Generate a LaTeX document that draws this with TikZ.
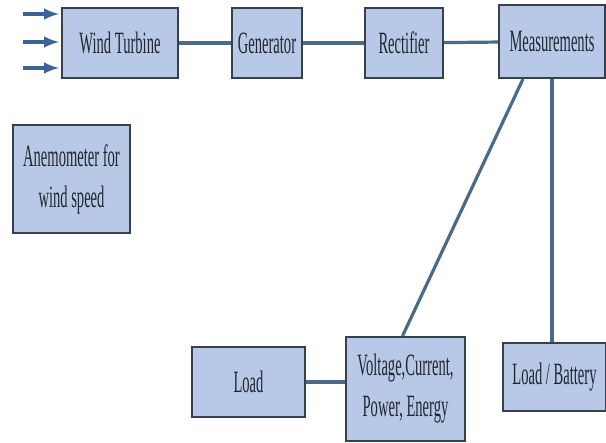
\documentclass[tikz,border=0pt]{standalone}
\usepackage{fontspec}
\newfontfamily\boxfont[FakeStretch=0.47]{Liberation Serif}
\usepackage{xcolor}
\usepackage{tikz}
\definecolor{boxfill}{HTML}{B7C9E7}
\definecolor{border}{HTML}{36404E}
\definecolor{wire}{HTML}{4A6A88}
\definecolor{wind}{HTML}{3A6399}
\definecolor{ink}{HTML}{22262F}

\begin{document}
\begin{tikzpicture}[x=1pt, y=-1pt,
  block/.style={draw=border, line width=2pt, fill=boxfill, inner sep=0pt, align=center,
    text=ink, font=\boxfont\fontsize{31}{41}\selectfont},
  wire/.style={draw=wire, line width=3.2pt}]
  \useasboundingbox (0,0) rectangle (606,443);
  \node[block, minimum width=116pt, minimum height=70pt] (turbine) at (120,43) {Wind Turbine};
  \node[block, minimum width=70pt, minimum height=70pt] (gen) at (267,43) {Generator};
  \node[block, minimum width=78pt, minimum height=70pt] (rect) at (404,43) {Rectifier};
  \node[block, minimum width=106pt, minimum height=73pt] (meas) at (552,41.5) {Measurements};
  \node[block, minimum width=117pt, minimum height=108pt] (anemo) at (71.5,179) {Anemometer for\\wind speed};
  \node[block, minimum width=113pt, minimum height=70pt] (load) at (248.5,382) {Load};
  \node[block, minimum width=119pt, minimum height=104pt] (volt) at (405.5,389) {Voltage,Current,\\Power, Energy};
  \node[block, minimum width=103pt, minimum height=68pt] (batt) at (554.5,377) {Load / Battery};
  % wind
  \foreach \y in {14,42,68} {
    \coordinate (w\y) at (23,\y);
    \draw[-latex, color=wind, line width=4pt, shorten >=2pt] (w\y) -- (w\y -| turbine.west);
  }
  \draw[wire] (turbine) -- (gen);
  \draw[wire] (gen) -- (rect);
  \draw[wire] (rect) -- (meas);
  \draw[wire] ([xshift=-29pt]meas.south) -- ([xshift=-3pt]volt.north);
  \draw[wire] (meas.south) -- (meas.south |- batt.north);
  \draw[wire] (load.east) -- (load.east -| volt.west);
\end{tikzpicture}
\end{document}
